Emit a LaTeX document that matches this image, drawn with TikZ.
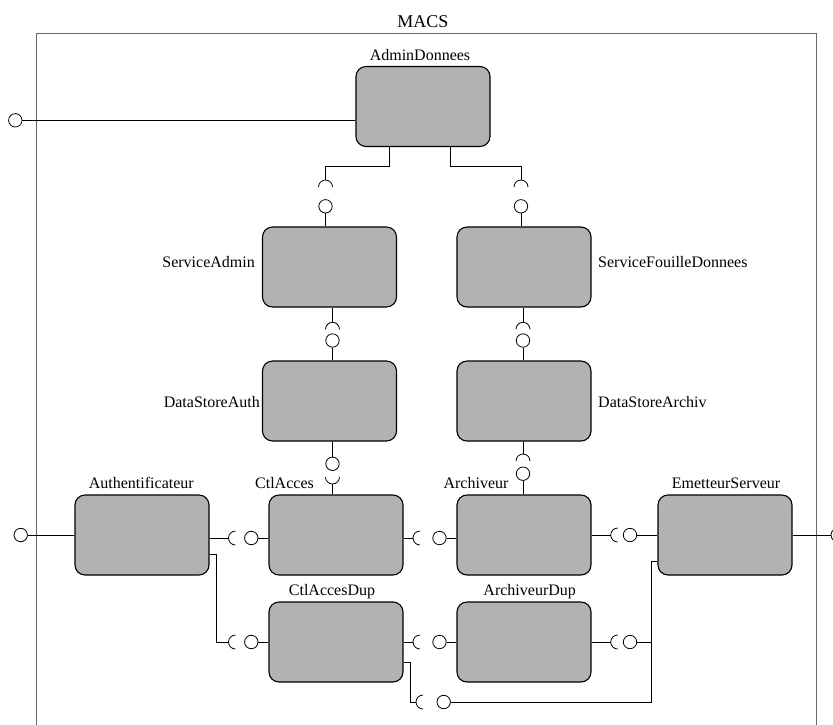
\documentclass[tikz,border=0pt]{standalone}
\usepackage{fontspec}
\setmainfont{Liberation Serif}
\begin{document}
\begin{tikzpicture}[x=1pt,y=-1pt,
  comp/.style={draw, fill=black!30, rounded corners=10pt, minimum width=134pt, minimum height=80pt, inner sep=0pt, line width=1.1pt},
  ball/.style={draw, fill=white, circle, minimum size=13.4pt, inner sep=0pt, line width=0.8pt},
  lbl/.style={font=\fontsize{16}{19}\selectfont, inner sep=0pt},
  conn/.style={line width=0.8pt},
  frame/.style={draw=black!60, line width=1pt}]
\clip (0,0) rectangle (833,724);
\fill[white] (0,0) rectangle (833,724);
% frame
\draw[frame] (36,33) rectangle (816,780);
\node[lbl, font=\fontsize{18}{21}\selectfont, anchor=base] (lMACS) at (423,27) {MACS};
% components
\node[comp] (AD) at (423,106.5) {};
\node[comp] (SA) at (329.5,267) {};
\node[comp] (SF) at (524,267) {};
\node[comp] (DA) at (329.5,401) {};
\node[comp] (DR) at (524,401) {};
\node[comp] (AU) at (142,535) {};
\node[comp] (CA) at (336,535) {};
\node[comp] (AR) at (524,535) {};
\node[comp] (ES) at (725,535) {};
\node[comp] (CD) at (336,642) {};
\node[comp] (RD) at (524,642) {};
% labels
\node[lbl, anchor=base] (lAD) at (420,60) {AdminDonnees};
\node[lbl, anchor=base east] (lSA) at (255,267) {ServiceAdmin};
\node[lbl, anchor=base west] (lSF) at (598,267) {ServiceFouilleDonnees};
\node[lbl, anchor=base east] (lDA) at (260,407) {DataStoreAuth};
\node[lbl, anchor=base west] (lDR) at (598,407) {DataStoreArchiv};
\node[lbl, anchor=base] (lAU) at (141.3,488) {Authentificateur};
\node[lbl, anchor=base] (lCA) at (284.5,488) {CtlAcces};
\node[lbl, anchor=base] (lAR) at (476,488) {Archiveur};
\node[lbl, anchor=base] (lES) at (726,488) {EmetteurServeur};
\node[lbl, anchor=base] (lCD) at (332,595) {CtlAccesDup};
\node[lbl, anchor=base] (lRD) at (529.7,595) {ArchiveurDup};
% socket apex coordinates
\coordinate (sAD1) at (325.5,180);
\coordinate (sAD2) at (521,180);
\coordinate (sSA) at (332.5,322.3);
\coordinate (sSF) at (523,322.3);
\coordinate (sCA0) at (332.5,484);
\coordinate (sAR0) at (523,454);
\coordinate (sCA1) at (228.5,538);
\coordinate (sAR1) at (413,538);
\coordinate (sES1) at (610.7,535);
\coordinate (sCD1) at (228.5,642);
\coordinate (sRD1) at (413,642);
\coordinate (sES2) at (610.7,642);
\coordinate (sES3) at (416,702);
% bend coordinates
\coordinate (kAD1) at (389,166);
\coordinate (kAD2) at (450,166);
\coordinate (kAU2) at (216,554);
\coordinate (kCD) at (410,662);
\coordinate (kES) at (651,561);
% connectors
\begin{scope}[conn]
\draw (AD.south -| kAD1) -- (kAD1) -| (sAD1);
\draw (AD.south -| kAD2) -- (kAD2) -| (sAD2);
\draw (SA.south -| sSA) -- (sSA);
\draw (SF.south -| sSF) -- (sSF);
\draw (DR.south -| sAR0) -- (sAR0);
\draw (sCA0) -- (CA.north -| sCA0);
\draw (AU.east |- sCA1) -- (sCA1);
\draw (AU.east |- kAU2) -- (kAU2) |- (sCD1);
\draw (CA.east |- sAR1) -- (sAR1);
\draw (CD.east |- sRD1) -- (sRD1);
\draw (AR.east |- sES1) -- (sES1);
\draw (RD.east |- sES2) -- (sES2);
\draw (CD.east |- kCD) -- (kCD) |- (sES3);
% sockets opening down
\foreach \s in {sAD1,sAD2,sSA,sSF,sAR0}
  \draw (\s) ++(-7,7) arc[start angle=180, end angle=360, radius=7];
% socket opening up
\draw (sCA0) ++(-7,-7) arc[start angle=180, end angle=0, radius=7];
% sockets opening right
\foreach \s in {sCA1,sAR1,sES1,sCD1,sRD1,sES2,sES3}
  \draw (\s) ++(7,-7) arc[start angle=270, end angle=90, radius=7];
\end{scope}
% balls
\node[ball] (extAD) at (15.3,120.3) {};
\node[ball] (bSA) at (325.5,206.3) {};
\node[ball] (bSF) at (521,206.3) {};
\node[ball] (bDA) at (332.5,340.5) {};
\node[ball] (bDR) at (523,340.5) {};
\node[ball] (bDA2) at (332.5,463.8) {};
\node[ball] (bAR0) at (523,473.7) {};
\node[ball] (extAU) at (20.7,535) {};
\node[ball] (bCA1) at (251.3,538) {};
\node[ball] (bAR1) at (439.5,538) {};
\node[ball] (bES1) at (630,535) {};
\node[ball] (bCD1) at (251.3,642) {};
\node[ball] (bRD1) at (439.5,642) {};
\node[ball] (bES2) at (630,642) {};
\node[ball] (bES3) at (443.7,702) {};
\node[ball] (extES) at (837.7,535) {};
\begin{scope}[conn]
\draw (extAD) -- (AD.west |- extAD);
\draw (bSA) -- (SA.north -| bSA);
\draw (bSF) -- (SF.north -| bSF);
\draw (bDA) -- (DA.north -| bDA);
\draw (bDR) -- (DR.north -| bDR);
\draw (DA.south -| bDA2) -- (bDA2);
\draw (bAR0) -- (AR.north -| bAR0);
\draw (extAU) -- (AU.west |- extAU);
\draw (bCA1) -- (CA.west |- bCA1);
\draw (bAR1) -- (AR.west |- bAR1);
\draw (bES1) -- (ES.west |- bES1);
\draw (bCD1) -- (CD.west |- bCD1);
\draw (bRD1) -- (RD.west |- bRD1);
\draw (bES2) -- (kES |- bES2);
\draw (bES3) -| (kES) -- (ES.west |- kES);
\draw (ES.east |- extES) -- (extES);
\end{scope}
\end{tikzpicture}
\end{document}
